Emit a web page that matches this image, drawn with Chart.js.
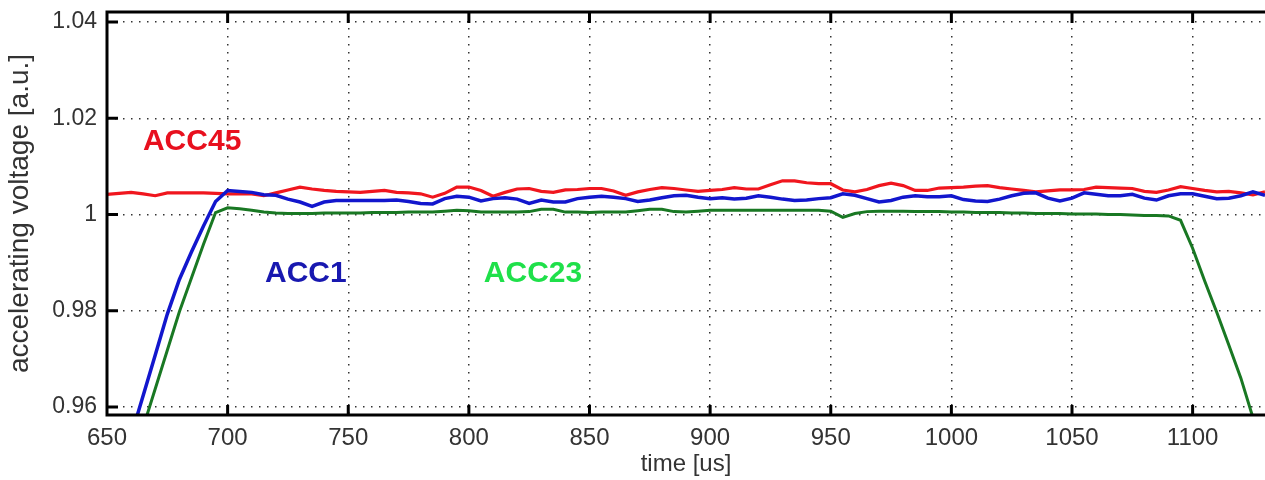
<!DOCTYPE html>
<html>
<head>
<meta charset="utf-8">
<title>accelerating voltage</title>
<script src="https://cdn.jsdelivr.net/npm/chart.js@4.4.1/dist/chart.umd.min.js"></script>
<style>
  html, body { margin: 0; padding: 0; background: #fff; }
  canvas { display: block; }
</style>
</head>
<body>
<canvas id="voltChart" width="1265" height="480"></canvas>
<script>
// sample times [us]
const timeUs = [
  650, 655, 660, 665, 670, 675, 680, 685, 690, 695,
  700, 705, 710, 715, 720, 725, 730, 735, 740, 745,
  750, 755, 760, 765, 770, 775, 780, 785, 790, 795,
  800, 805, 810, 815, 820, 825, 830, 835, 840, 845,
  850, 855, 860, 865, 870, 875, 880, 885, 890, 895,
  900, 905, 910, 915, 920, 925, 930, 935, 940, 945,
  950, 955, 960, 965, 970, 975, 980, 985, 990, 995,
  1000, 1005, 1010, 1015, 1020, 1025, 1030, 1035, 1040, 1045,
  1050, 1055, 1060, 1065, 1070, 1075, 1080, 1085, 1090, 1095,
  1100, 1105, 1110, 1115, 1120, 1125, 1130
];

const acc45 = [
  1.0042, 1.0044, 1.0046, 1.0043, 1.0039, 1.0045, 1.0045, 1.0045, 1.0045, 1.0044,
  1.0043, 1.0043, 1.0043, 1.0039, 1.0045, 1.0051, 1.0057, 1.0053, 1.0050, 1.0048,
  1.0047, 1.0046, 1.0048, 1.0050, 1.0046, 1.0045, 1.0043, 1.0036, 1.0044, 1.0057,
  1.0057, 1.0050, 1.0038, 1.0046, 1.0053, 1.0054, 1.0048, 1.0046, 1.0051, 1.0052,
  1.0054, 1.0054, 1.0049, 1.0040, 1.0047, 1.0052, 1.0056, 1.0054, 1.0051, 1.0048,
  1.0050, 1.0052, 1.0056, 1.0053, 1.0053, 1.0062, 1.0070, 1.0070, 1.0066, 1.0064,
  1.0064, 1.0051, 1.0047, 1.0052, 1.0060, 1.0065, 1.0060, 1.0050, 1.0050, 1.0055,
  1.0056, 1.0057, 1.0059, 1.0060, 1.0056, 1.0053, 1.0050, 1.0047, 1.0049, 1.0051,
  1.0051, 1.0052, 1.0057, 1.0056, 1.0055, 1.0054, 1.0048, 1.0046, 1.0051, 1.0058,
  1.0054, 1.0050, 1.0047, 1.0048, 1.0045, 1.0041, 1.0047
];

const acc1 = [
  0.9370, 0.9455, 0.9540, 0.9624, 0.9708, 0.9793, 0.9865, 0.9922, 0.9976, 1.0027,
  1.0050, 1.0048, 1.0046, 1.0041, 1.0040, 1.0032, 1.0026, 1.0017, 1.0026, 1.0029,
  1.0029, 1.0029, 1.0029, 1.0029, 1.0030, 1.0027, 1.0023, 1.0022, 1.0033, 1.0038,
  1.0036, 1.0028, 1.0033, 1.0035, 1.0032, 1.0023, 1.0030, 1.0026, 1.0026, 1.0033,
  1.0036, 1.0038, 1.0036, 1.0033, 1.0027, 1.0030, 1.0035, 1.0039, 1.0040, 1.0036,
  1.0033, 1.0035, 1.0032, 1.0034, 1.0039, 1.0036, 1.0032, 1.0029, 1.0030, 1.0033,
  1.0035, 1.0043, 1.0040, 1.0033, 1.0026, 1.0029, 1.0036, 1.0039, 1.0037, 1.0037,
  1.0039, 1.0031, 1.0028, 1.0027, 1.0032, 1.0039, 1.0044, 1.0045, 1.0034, 1.0028,
  1.0034, 1.0045, 1.0042, 1.0039, 1.0039, 1.0042, 1.0034, 1.0030, 1.0039, 1.0043,
  1.0043, 1.0038, 1.0033, 1.0034, 1.0039, 1.0047, 1.0040
];

const acc23 = [
  0.9318, 0.9398, 0.9478, 0.9558, 0.9638, 0.9718, 0.9798, 0.9868, 0.9938, 1.0004,
  1.0014, 1.0012, 1.0009, 1.0005, 1.0003, 1.0002, 1.0002, 1.0002, 1.0003, 1.0003,
  1.0003, 1.0003, 1.0004, 1.0004, 1.0004, 1.0005, 1.0005, 1.0005, 1.0007, 1.0009,
  1.0008, 1.0005, 1.0005, 1.0005, 1.0005, 1.0006, 1.0011, 1.0011, 1.0005, 1.0005,
  1.0004, 1.0005, 1.0005, 1.0005, 1.0008, 1.0011, 1.0011, 1.0006, 1.0005, 1.0007,
  1.0009, 1.0009, 1.0009, 1.0009, 1.0009, 1.0009, 1.0009, 1.0009, 1.0009, 1.0009,
  1.0007, 0.9994, 1.0002, 1.0006, 1.0007, 1.0007, 1.0007, 1.0006, 1.0006, 1.0006,
  1.0005, 1.0005, 1.0004, 1.0004, 1.0004, 1.0003, 1.0003, 1.0002, 1.0002, 1.0002,
  1.0001, 1.0001, 1.0001, 1.0000, 1.0000, 0.9999, 0.9998, 0.9998, 0.9997, 0.9988,
  0.9930, 0.9862, 0.9797, 0.9729, 0.9660, 0.9578, 0.9505
];

const xTicks = [650, 700, 750, 800, 850, 900, 950, 1000, 1050, 1100];
const xTickLabels = ['650', '700', '750', '800', '850', '900', '950', '1000', '1050', '1100'];
const yTicks = [0.96, 0.98, 1.00, 1.02, 1.04];
const yTickLabels = ['0.96', '0.98', '1', '1.02', '1.04'];

// in-plot series names: [text, time, voltage, colour]
const seriesTags = [
  ['ACC45', 664.9, 1.0151, '#e8101e'],
  ['ACC1', 715.5, 0.9877, '#1818b0'],
  ['ACC23', 806.2, 0.9877, '#1fe04a']
];

const points = vals => timeUs.map((t, i) => ({x: t, y: vals[i]}));

// black box on left/top/bottom with inward ticks, plus the series names
const matlabFrame = {
  id: 'matlabFrame',
  afterDatasetsDraw(chart) {
    const {ctx, chartArea: a, scales: {x, y}} = chart;
    ctx.save();
    ctx.strokeStyle = '#000';
    ctx.lineWidth = 3;
    ctx.beginPath();
    ctx.moveTo(a.right + 2, a.top);
    ctx.lineTo(a.left, a.top);
    ctx.lineTo(a.left, a.bottom);
    ctx.lineTo(a.right + 2, a.bottom);
    x.ticks.forEach(t => {
      const px = x.getPixelForValue(t.value);
      ctx.moveTo(px, a.bottom);
      ctx.lineTo(px, a.bottom - 10);
      ctx.moveTo(px, a.top);
      ctx.lineTo(px, a.top + 11);
    });
    y.ticks.forEach(t => {
      const py = y.getPixelForValue(t.value);
      ctx.moveTo(a.left, py);
      ctx.lineTo(a.left + 11, py);
    });
    ctx.stroke();

    ctx.font = 'bold 30px "Liberation Sans", Arial, sans-serif';
    ctx.textAlign = 'left';
    ctx.textBaseline = 'middle';
    seriesTags.forEach(([txt, t, v, col]) => {
      ctx.fillStyle = col;
      ctx.fillText(txt, x.getPixelForValue(t), y.getPixelForValue(v));
    });
    ctx.restore();
  }
};

const ctx = document.getElementById('voltChart').getContext('2d');

const voltChart = new Chart(ctx, {
  type: 'line',
  data: {
    datasets: [{
      label: 'ACC1',
      data: points(acc1),
      borderColor: 'rgb(18, 22, 205)',
      borderWidth: 3.5
    }, {
      label: 'ACC45',
      data: points(acc45),
      borderColor: 'rgb(240, 22, 30)',
      borderWidth: 3.2
    }, {
      label: 'ACC23',
      data: points(acc23),
      borderColor: 'rgb(25, 120, 35)',
      borderWidth: 3
    }]
  },
  options: {
    responsive: false,
    animation: false,
    devicePixelRatio: 1,
    layout: { padding: { top: 12, right: 0, bottom: 0, left: 0 } },
    elements: {
      point: { radius: 0 },
      line: { tension: 0, fill: false }
    },
    datasets: { line: { clip: 0 } },
    plugins: {
      legend: { display: false },
      tooltip: { enabled: false }
    },
    scales: {
      x: {
        type: 'linear',
        min: 650,
        max: 1130,
        afterBuildTicks: s => { s.ticks = xTicks.map(v => ({value: v})); },
        afterFit: s => { s.height = 65; },
        ticks: {
          color: '#333',
          padding: 9,
          maxRotation: 0,
          font: { family: '"Liberation Sans", Arial, sans-serif', size: 24 },
          callback: (v, i) => xTickLabels[i]
        },
        grid: { color: '#333', lineWidth: 1.5, drawTicks: false },
        border: { display: false, dash: [1.5, 6.5] },
        title: {
          display: true,
          text: 'time [us]',
          color: '#333',
          padding: { top: 0, bottom: 1 },
          font: { family: '"Liberation Sans", Arial, sans-serif', size: 24 }
        }
      },
      y: {
        min: 0.95834,
        max: 1.04208,
        afterBuildTicks: s => { s.ticks = yTicks.map(v => ({value: v})); },
        afterFit: s => { s.width = 107; },
        ticks: {
          color: '#333',
          padding: 10,
          // tiny line height keeps the top label from pushing the plot box down
          font: { family: '"Liberation Sans", Arial, sans-serif', size: 23, lineHeight: 0.1 },
          callback: (v, i) => yTickLabels[i]
        },
        grid: { color: '#333', lineWidth: 1.5, drawTicks: false },
        border: { display: false, dash: [1.5, 6.5] },
        title: {
          display: true,
          text: 'accelerating voltage [a.u.]',
          color: '#333',
          padding: { top: 3, bottom: 0 },
          font: { family: '"Liberation Sans", Arial, sans-serif', size: 28 }
        }
      }
    }
  },
  plugins: [matlabFrame]
});
</script>
</body>
</html>
